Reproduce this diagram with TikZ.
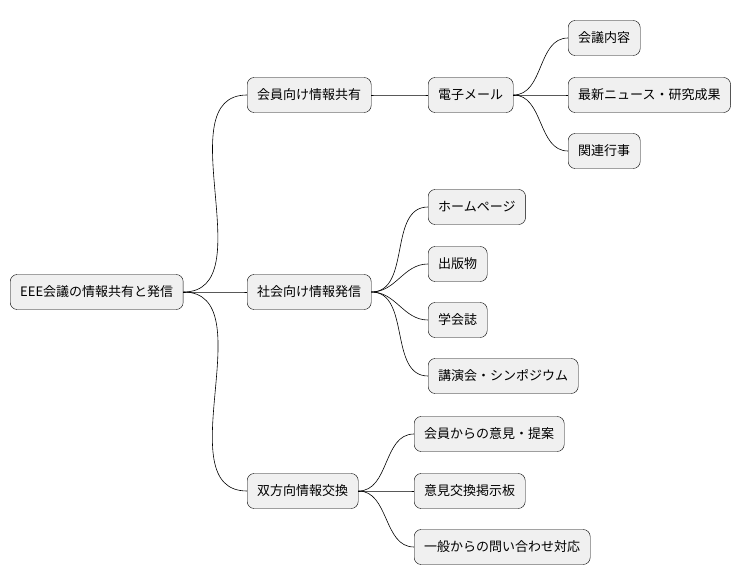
\documentclass[tikz,border=0pt]{standalone}
\usepackage{fontspec}
\setmainfont{Noto Sans CJK JP}
\tikzset{
  topic/.style={draw, fill=black!6, rounded corners=7pt, anchor=west,
    minimum height=35pt, inner xsep=10pt, font=\fontsize{13}{15}\selectfont},
  branch/.style={draw, line width=0.6pt}
}
\begin{document}
\begin{tikzpicture}[x=1pt,y=-1pt]
      \useasboundingbox (0,0) rectangle (753,583);
      %%%%%%%%%%%%%%%%%%%%%%%%%%%%%%%%%%%%%%%%%%%%%%%
      \node[topic] at (10,292) (root) {EEE会議の情報共有と発信};
      %%%%%%%%%%%%%%%%%%%%%%%%%%%%%%%%%%%%%%%%%%%%%%%
      \node[topic] at (247,95)  (m1) {会員向け情報共有};
      \node[topic] at (247,292) (m2) {社会向け情報発信};
      \node[topic] at (247,491) (m3) {双方向情報交換};
      %%%%%%%%%%%%%%%%%%%%%%%%%%%%%%%%%%%%%%%%%%%%%%%
      \node[topic] at (428,95)  (mail) {電子メール};
      \node[topic] at (568,38)  (a1) {会議内容};
      \node[topic] at (568,95)  (a2) {最新ニュース・研究成果};
      \node[topic] at (568,151) (a3) {関連行事};
      %%%%%%%%%%%%%%%%%%%%%%%%%%%%%%%%%%%%%%%%%%%%%%%
      \node[topic] at (428,207) (b1) {ホームページ};
      \node[topic] at (428,264) (b2) {出版物};
      \node[topic] at (428,320) (b3) {学会誌};
      \node[topic] at (428,376) (b4) {講演会・シンポジウム};
      %%%%%%%%%%%%%%%%%%%%%%%%%%%%%%%%%%%%%%%%%%%%%%%
      \node[topic] at (414,434) (c1) {会員からの意見・提案};
      \node[topic] at (414,491) (c2) {意見交換掲示板};
      \node[topic] at (414,547) (c3) {一般からの問い合わせ対応};
      %%%%%%%%%%%%%%%%%%%%%%%%%%%%%%%%%%%%%%%%%%%%%%%
      \foreach \p/\c in {root/m1,root/m2,root/m3,m1/mail,mail/a1,mail/a2,mail/a3,
                         m2/b1,m2/b2,m2/b3,m2/b4,m3/c1,m3/c2,m3/c3}
        \draw[branch] (\p.east) to[out=0,in=180] (\c.west);
\end{tikzpicture}
\end{document}
